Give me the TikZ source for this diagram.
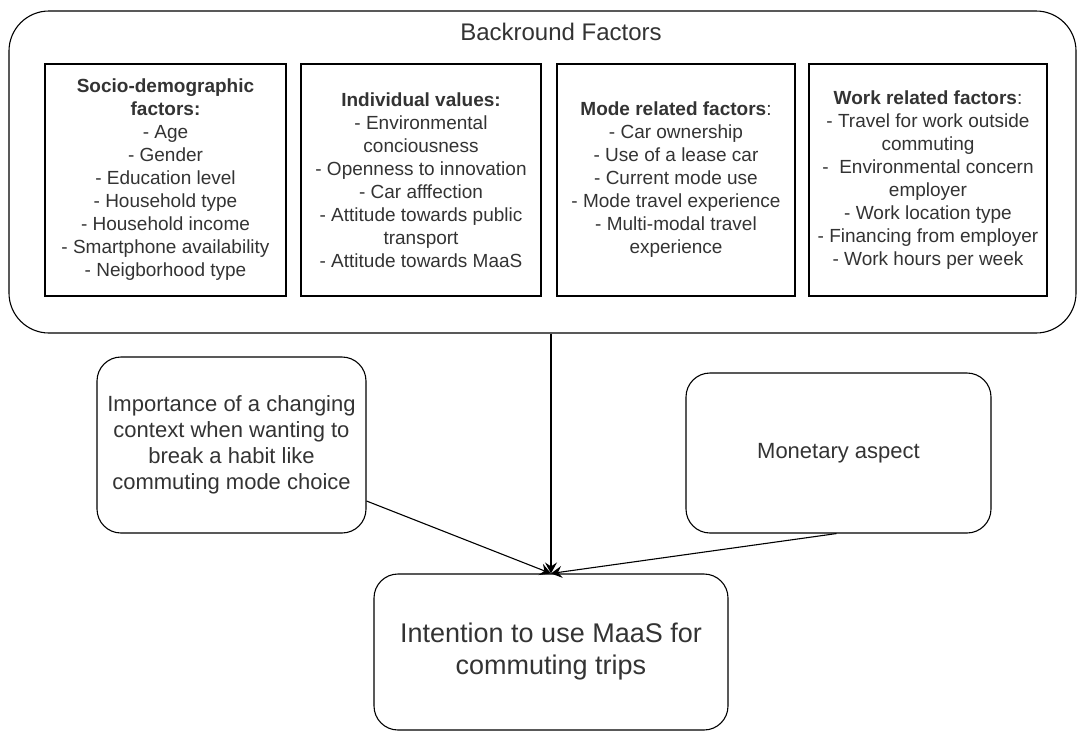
\documentclass[tikz,border=0pt]{standalone}
\usepackage{fontspec}
\setmainfont{Liberation Sans}
\usetikzlibrary{arrows.meta}
\definecolor{txt}{HTML}{333333}
\tikzset{
  outerbox/.style={draw=black, line width=1.1pt, rounded corners=40pt, inner sep=0pt},
  factorbox/.style={draw=black, line width=1.1pt, inner sep=0pt, align=center, text=txt,
    font=\fontsize{19}{23}\selectfont},
  softbox/.style={draw=black, line width=1.1pt, rounded corners=24pt, inner sep=0pt, align=center, text=txt,
    font=\fontsize{22}{26}\selectfont},
  goalbox/.style={softbox, font=\fontsize{27}{32}\selectfont},
  link/.style={draw=black, line width=1.1pt, -{Stealth[length=11pt,width=12pt,inset=4pt]}}
}
\begin{document}
\begin{tikzpicture}[x=1pt, y=-1pt]
\useasboundingbox (0,0) rectangle (1079,731);

% background factors container
\node[outerbox, minimum width=1067pt, minimum height=322pt] (bg) at (542.5,172) {};
\node[text=txt, font=\fontsize{24}{28}\selectfont] (bgtitle) at (561,32) {Backround Factors};

% the four groups of factors
\node[factorbox, minimum width=241pt, minimum height=232pt] (socio) at (165.5,180)
  {\textbf{Socio-demographic}\\\textbf{factors:}\\- Age\\- Gender\\- Education level\\- Household type\\- Household income\\- Smartphone availability\\- Neigborhood type};
\node[factorbox, minimum width=240pt, minimum height=232pt] (values) at (421,180)
  {\textbf{Individual values:}\\- Environmental\\conciousness\\- Openness to innovation\\- Car afffection\\- Attitude towards public\\transport\\- Attitude towards MaaS};
\node[factorbox, minimum width=238pt, minimum height=232pt] (mode) at (676,180)
  {\textbf{Mode related factors}:\\- Car ownership\\- Use of a lease car\\- Current mode use\\- Mode travel experience\\- Multi-modal travel\\experience};
\node[factorbox, minimum width=238pt, minimum height=232pt] (work) at (928,180)
  {\textbf{Work related factors}:\\- Travel for work outside\\commuting\\-\ \ Environmental concern\\employer\\- Work location type\\- Financing from employer\\- Work hours per week};

% further influences
\node[softbox, minimum width=269pt, minimum height=176pt] (context) at (231.5,445)
  {Importance of a changing\\context when wanting to\\break a habit like\\commuting mode choice};
\node[softbox, minimum width=305pt, minimum height=160pt] (money) at (838.5,453)
  {Monetary aspect};

% outcome
\node[goalbox, minimum width=354pt, minimum height=156pt] (goal) at (551,652)
  {Intention to use MaaS for\\commuting trips};

% connectors
\draw[link] (bg.south -| goal.north) -- (goal.north);
\draw[link] ([yshift=-56pt]context.east) -- (goal.north);
\draw[link] ([xshift=-2pt]money.south) -- (goal.north);
\end{tikzpicture}
\end{document}
